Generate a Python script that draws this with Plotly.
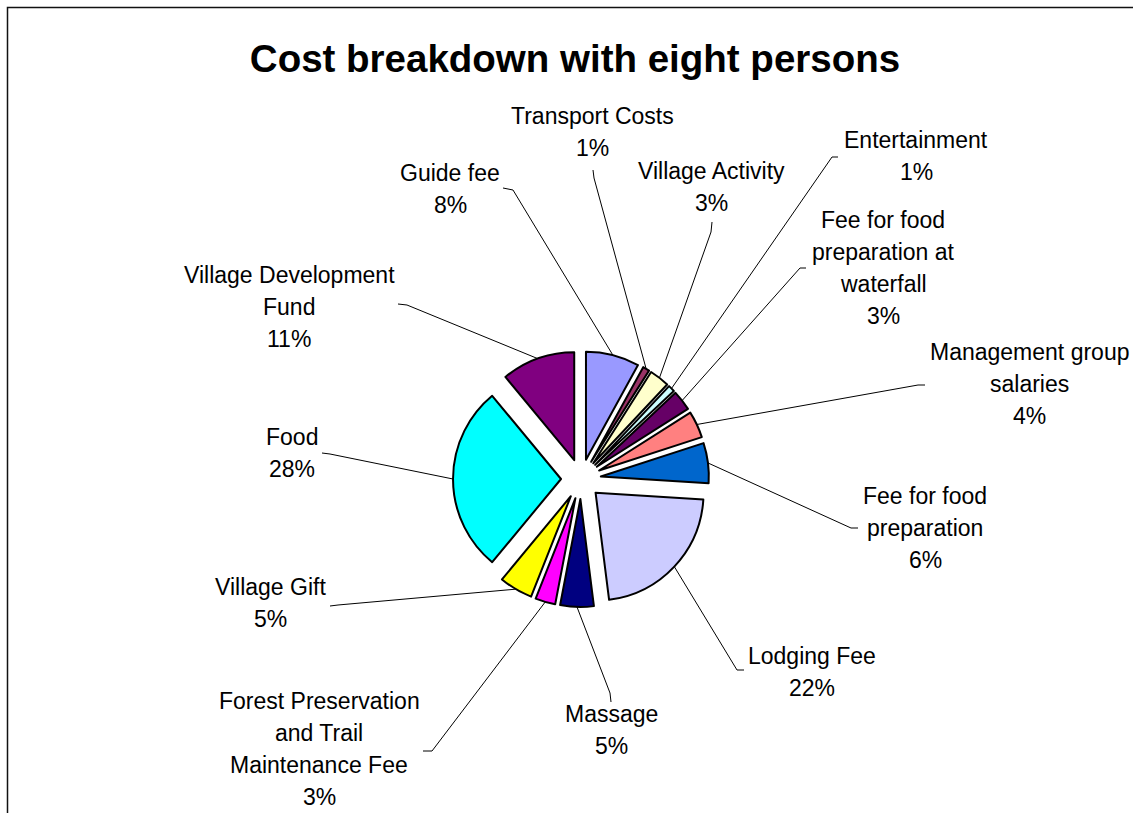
import math
import plotly.graph_objects as go

# ---------------- data ----------------
categories = [
    "Guide fee", "Transport Costs", "Village Activity", "Entertainment",
    "Fee for food preparation at waterfall", "Management group salaries",
    "Fee for food preparation", "Lodging Fee", "Massage",
    "Forest Preservation and Trail Maintenance Fee", "Village Gift",
    "Food", "Village Development Fund",
]
shares = [8, 1, 3, 1, 3, 4, 6, 22, 5, 3, 5, 28, 11]
label_lines = [
    ["Guide fee"], ["Transport Costs"], ["Village Activity"], ["Entertainment"],
    ["Fee for food", "preparation at", "waterfall"], ["Management group", "salaries"],
    ["Fee for food", "preparation"], ["Lodging Fee"], ["Massage"],
    ["Forest Preservation", "and Trail", "Maintenance Fee"], ["Village Gift"],
    ["Food"], ["Village Development", "Fund"],
]
title_text = "Cost breakdown with eight persons"

# ---------------- styles / layout ----------------
colors = ["#9999FF", "#993366", "#FFFFCC", "#CCFFFF", "#660066", "#FF8080",
          "#0066CC", "#CCCCFF", "#000080", "#FF00FF", "#FFFF00", "#00FFFF", "#800080"]
W, H = 1133, 813
FONT = "Liberation Sans, Arial, sans-serif"
CX, CY, R, PULL = 581, 479, 108, 0.185
LINE_H = 32
# label block position (centre x, first line y) in pixels
label_pos = [(450, 173), (592, 116), (711, 171), (916, 140), (883, 220), (1029, 352),
             (925, 496), (812, 656), (611, 714), (319, 701), (270, 587), (292, 437), (289, 275)]
# leader line elbow and end (label side), pixels
leader_elbow = [(513, 190), (594, 178), (711, 232), (832, 157), (800, 268), (918, 385),
                (851, 528), (737, 670), (610, 693), (432, 751), (338, 605), (330, 454), (407, 305)]
leader_end = [(503, 188), (593, 170), (712, 222), (838, 157), (806, 268), (925, 385),
              (858, 528), (744, 670), (611, 702), (423, 751), (330, 606), (322, 453), (398, 304)]


def px(x):
    return x / W


def py(y):
    return 1 - y / H


half = R * (1 + PULL)
fig = go.Figure(go.Pie(
    labels=categories, values=shares, sort=False, direction="clockwise", rotation=0,
    pull=[PULL] * len(shares), textinfo="none", hoverinfo="label+percent",
    marker=dict(colors=colors, line=dict(color="black", width=2)),
    domain=dict(x=[px(CX - half), px(CX + half)], y=[py(CY + half), py(CY - half)]),
    showlegend=False,
))

total = sum(shares)
annotations = []
shapes = []
cum = 0
for i, v in enumerate(shares):
    theta = (cum + v / 2) / total * 2 * math.pi
    cum += v
    sx = CX + R * (1 + PULL) * math.sin(theta)
    sy = CY - R * (1 + PULL) * math.cos(theta)
    ex, ey = leader_elbow[i]
    tx, ty = leader_end[i]
    shapes.append(dict(
        type="path", xref="paper", yref="paper",
        path=f"M {px(sx)} {py(sy)} L {px(ex)} {py(ey)} L {px(tx)} {py(ty)}",
        line=dict(color="black", width=1),
    ))
    lines = label_lines[i] + [f"{round(v / total * 100)}%"]
    lx, ly = label_pos[i]
    for j, t in enumerate(lines):
        annotations.append(dict(
            text=t, x=px(lx), y=py(ly + j * LINE_H), xref="paper", yref="paper",
            xanchor="center", yanchor="middle", showarrow=False,
            font=dict(family=FONT, size=23, color="black"),
        ))

# chart frame
shapes.append(dict(type="rect", xref="paper", yref="paper",
                   x0=px(7.5), x1=1.05, y0=-0.05, y1=py(7.5),
                   line=dict(color="#111111", width=1.5)))

fig.update_layout(
    width=W, height=H, autosize=False,
    margin=dict(l=0, r=0, t=0, b=0),
    paper_bgcolor="white", plot_bgcolor="white",
    title=dict(text=f"<b>{title_text}</b>", x=px(575), y=py(59),
               xanchor="center", yanchor="middle",
               font=dict(family=FONT, size=38.5, color="black")),
    annotations=annotations, shapes=shapes,
)

fig.write_html(
    "out.html",
    config={"displayModeBar": False},
    post_script="document.body.style.margin='0';document.body.style.overflow='hidden';",
)
